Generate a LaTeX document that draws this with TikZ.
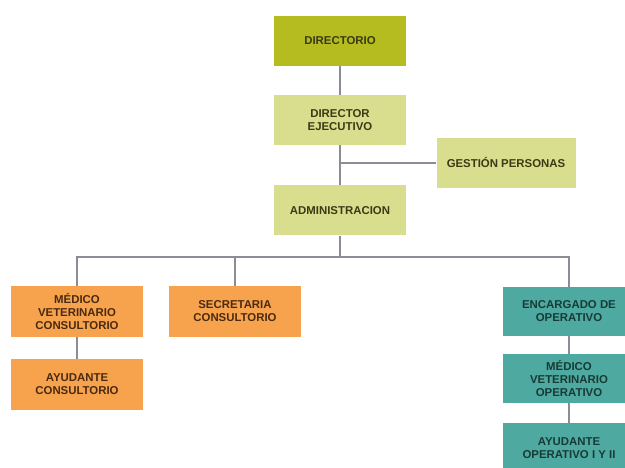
\documentclass[tikz,border=0pt]{standalone}
\usepackage{fontspec}
\setmainfont{Liberation Sans}
\begin{document}
\begin{tikzpicture}[x=1pt,y=-1pt,
  box/.style={rectangle, minimum width=132pt, minimum height=50pt, inner sep=1pt,
    align=center, font=\fontsize{11.4}{13}\selectfont\bfseries},
  olive/.style={box, fill=oliveC, text=oliveT},
  pale/.style={box, fill=paleC, text=oliveT},
  orange/.style={box, fill=orangeC, text=orangeT},
  teal/.style={box, fill=tealC, text=tealT},
  link/.style={draw=lineC, line width=1.3pt}]
\definecolor{oliveC}{RGB}{181,188,32}
\definecolor{paleC}{RGB}{217,222,142}
\definecolor{oliveT}{RGB}{58,58,20}
\definecolor{orangeC}{RGB}{247,163,78}
\definecolor{orangeT}{RGB}{74,42,16}
\definecolor{tealC}{RGB}{78,170,160}
\definecolor{tealT}{RGB}{24,58,54}
\definecolor{lineC}{RGB}{140,140,150}
\useasboundingbox (0,0) rectangle (625,468);
\clip (0,0) rectangle (625,468);
\fill[white] (0,0) rectangle (625,468);

% upper chain
\node[olive] (dir) at (340,41) {DIRECTORIO};
\node[pale] (eje) at (340,120) {DIRECTOR\\EJECUTIVO};
\node[pale] (adm) at (340,210.5) {ADMINISTRACION};
\node[pale, minimum width=139pt] (ges) at (506,163) {GESTIÓN PERSONAS};

% consultorio branch
\node[orange, minimum height=51pt] (mvc) at (77,311.5) {MÉDICO\\VETERINARIO\\CONSULTORIO};
\node[orange, minimum height=51pt] (ayc) at (77,384.5) {AYUDANTE\\CONSULTORIO};
\node[orange, minimum height=51pt] (sec) at (235,311.5) {SECRETARIA\\CONSULTORIO};

% operativo branch
\node[teal, minimum height=49pt] (enc) at (569,311.5) {ENCARGADO DE\\OPERATIVO};
\node[teal, minimum height=49pt] (mvo) at (569,378.5) {MÉDICO\\VETERINARIO\\OPERATIVO};
\node[teal, minimum height=50pt] (ayo) at (569,448) {AYUDANTE\\OPERATIVO I Y II};

% connectors
\coordinate (bus) at (340,257);
\coordinate (gj) at (340,163);
\draw[link] (dir) -- (eje);
\draw[link] (eje) -- (adm);
\draw[link] (gj) -- (ges);
\draw[link] (adm) -- (bus);
\draw[link] (mvc.north) |- (bus) -| (enc.north);
\draw[link] (sec.north) -- (sec.north |- bus);
\draw[link] (mvc) -- (ayc);
\draw[link] (enc) -- (mvo);
\draw[link] (mvo) -- (ayo);
\end{tikzpicture}
\end{document}
